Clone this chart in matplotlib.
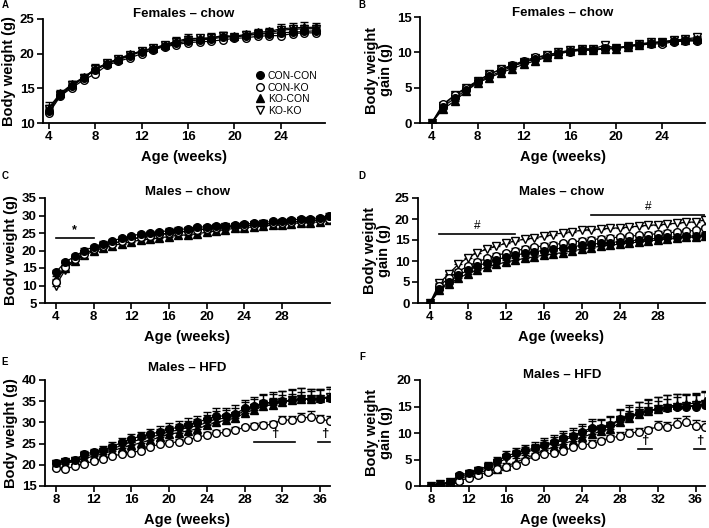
import matplotlib
matplotlib.use("Agg")
import matplotlib.pyplot as plt
import numpy as np

plt.rcParams['font.family'] = ['Liberation Sans', 'DejaVu Sans']
plt.rcParams['font.weight'] = 'bold'

groups = ["CON-CON", "CON-KO", "KO-CON", "KO-KO"]

# ---------------- Panel A: Females chow, body weight ----------------
weeks_A = list(range(4, 28))
A_concon = [11.8, 14.0, 15.3, 16.5, 17.6, 18.5, 19.1, 19.7, 20.3, 20.7, 21.1, 21.5, 21.8, 22.0, 22.1, 22.4, 22.4, 22.6, 22.8, 22.9, 23.0, 23.1, 23.2, 23.3]
A_conko = [11.4, 13.9, 15.1, 16.2, 17.1, 18.3, 18.9, 19.4, 20.0, 20.6, 21.0, 21.3, 21.6, 21.7, 21.8, 22.0, 22.2, 22.3, 22.5, 22.6, 22.6, 22.9, 23.0, 23.0]
A_kocon = [12.2, 14.3, 15.6, 16.6, 17.8, 18.6, 19.3, 19.9, 20.4, 20.8, 21.3, 21.8, 22.2, 22.2, 22.3, 22.6, 22.5, 22.8, 23.1, 23.2, 23.6, 23.7, 23.8, 23.8]
A_koko = [12.0, 14.1, 15.5, 16.5, 17.8, 18.6, 19.2, 19.8, 20.4, 20.8, 21.2, 21.7, 22.0, 22.2, 22.2, 22.6, 22.4, 22.7, 22.9, 23.0, 23.4, 23.5, 23.6, 23.6]
A_err_concon = [0.5, 0.4, 0.4, 0.4, 0.4, 0.4, 0.4, 0.4, 0.3, 0.3, 0.3, 0.4, 0.4, 0.4, 0.4, 0.4, 0.3, 0.3, 0.4, 0.4, 0.4, 0.4, 0.4, 0.4]
A_err_conko = [0.4, 0.3, 0.3, 0.3, 0.3, 0.3, 0.3, 0.3, 0.3, 0.3, 0.3, 0.3, 0.3, 0.3, 0.3, 0.3, 0.3, 0.3, 0.3, 0.3, 0.3, 0.3, 0.3, 0.3]
A_err_kocon = [0.8, 0.5, 0.5, 0.5, 0.7, 0.5, 0.4, 0.4, 0.4, 0.4, 0.4, 0.6, 0.6, 0.5, 0.7, 0.5, 0.4, 0.5, 0.4, 0.5, 0.7, 0.7, 0.7, 0.6]
A_err_koko = [0.6, 0.4, 0.5, 0.4, 0.5, 0.4, 0.4, 0.4, 0.4, 0.4, 0.4, 0.5, 0.5, 0.4, 0.5, 0.5, 0.4, 0.4, 0.4, 0.4, 0.5, 0.5, 0.6, 0.5]

# ---------------- Panel B: Females chow, weight gain ----------------
weeks_B = list(range(4, 28))
B_concon = [0.0, 2.3, 3.5, 4.7, 5.8, 6.6, 7.3, 8.0, 8.6, 9.0, 9.4, 9.8, 10.1, 10.3, 10.4, 10.6, 10.6, 10.9, 11.1, 11.3, 11.4, 11.6, 11.7, 11.7]
B_conko = [0.0, 2.7, 3.9, 4.9, 5.9, 6.9, 7.6, 8.2, 8.8, 9.3, 9.6, 9.9, 10.2, 10.4, 10.4, 10.5, 10.6, 10.8, 11.0, 11.2, 11.2, 11.5, 11.6, 11.6]
B_kocon = [0.0, 2.0, 3.1, 4.5, 5.7, 6.4, 7.1, 7.7, 8.3, 8.8, 9.3, 9.8, 10.2, 10.3, 10.3, 10.5, 10.5, 10.8, 11.1, 11.3, 11.5, 11.7, 11.8, 11.9]
B_koko = [0.0, 2.4, 4.0, 5.0, 6.0, 6.9, 7.6, 8.1, 8.6, 9.2, 9.6, 10.0, 10.3, 10.5, 10.5, 11.0, 10.6, 10.9, 11.2, 11.4, 11.5, 11.7, 11.9, 12.1]
B_err_concon = [0.0, 0.3, 0.3, 0.3, 0.3, 0.3, 0.3, 0.3, 0.3, 0.3, 0.3, 0.3, 0.3, 0.3, 0.3, 0.3, 0.3, 0.3, 0.3, 0.3, 0.3, 0.3, 0.3, 0.3]
B_err_conko = [0.0, 0.3, 0.3, 0.3, 0.3, 0.3, 0.3, 0.3, 0.3, 0.3, 0.3, 0.3, 0.3, 0.3, 0.3, 0.3, 0.3, 0.3, 0.3, 0.3, 0.3, 0.3, 0.3, 0.3]
B_err_kocon = [0.0, 0.3, 0.4, 0.4, 0.4, 0.4, 0.4, 0.4, 0.4, 0.4, 0.4, 0.4, 0.4, 0.4, 0.4, 0.4, 0.4, 0.4, 0.4, 0.4, 0.4, 0.4, 0.4, 0.4]
B_err_koko = [0.0, 0.3, 0.3, 0.3, 0.4, 0.4, 0.4, 0.4, 0.4, 0.4, 0.4, 0.4, 0.4, 0.4, 0.4, 0.4, 0.4, 0.4, 0.4, 0.4, 0.4, 0.4, 0.4, 0.5]

# ---------------- Panel C: Males chow, body weight ----------------
weeks_C = list(range(4, 34))
C_concon = [13.8, 16.7, 18.3, 20.0, 21.0, 22.0, 22.8, 23.5, 24.2, 24.7, 25.0, 25.3, 25.7, 26.0, 26.2, 26.6, 26.8, 27.0, 27.1, 27.3, 27.5, 27.8, 28.0, 28.3, 28.5, 28.7, 29.0, 29.1, 29.3, 30.0]
C_conko = [11.0, 15.3, 17.5, 19.0, 20.3, 21.3, 22.0, 22.7, 23.3, 23.8, 24.2, 24.6, 25.0, 25.3, 25.6, 26.0, 26.2, 26.5, 26.7, 26.9, 27.1, 27.3, 27.5, 27.8, 28.0, 28.2, 28.4, 28.6, 28.8, 29.0]
C_kocon = [12.0, 15.0, 17.0, 18.6, 19.8, 20.7, 21.3, 22.0, 22.5, 23.0, 23.3, 23.6, 24.0, 24.3, 24.5, 24.8, 25.2, 25.6, 26.0, 26.3, 26.5, 26.8, 27.0, 27.2, 27.4, 27.7, 27.9, 28.0, 28.2, 28.6]
C_koko = [10.0, 14.5, 17.3, 19.0, 20.2, 21.2, 21.9, 22.6, 23.2, 23.7, 24.1, 24.5, 24.9, 25.2, 25.5, 25.9, 26.1, 26.4, 26.6, 26.8, 27.0, 27.3, 27.5, 27.7, 27.9, 28.1, 28.3, 28.5, 28.7, 29.0]
C_err_concon = [0.6, 0.6, 0.6, 0.6, 0.6, 0.6, 0.6, 0.6, 0.6, 0.6, 0.6, 0.6, 0.6, 0.6, 0.6, 0.6, 0.6, 0.6, 0.6, 0.6, 0.6, 0.6, 0.6, 0.6, 0.6, 0.6, 0.6, 0.6, 0.6, 0.6]
C_err_conko = [0.6, 0.6, 0.6, 0.6, 0.6, 0.6, 0.6, 0.6, 0.6, 0.6, 0.6, 0.6, 0.6, 0.6, 0.6, 0.6, 0.6, 0.6, 0.6, 0.6, 0.6, 0.6, 0.6, 0.6, 0.6, 0.6, 0.6, 0.6, 0.6, 0.6]
C_err_kocon = [0.7, 0.7, 0.7, 0.7, 0.7, 0.7, 0.7, 0.7, 0.7, 0.7, 0.7, 0.7, 0.7, 0.7, 0.7, 0.7, 0.7, 0.7, 0.7, 0.7, 0.7, 0.7, 0.7, 0.7, 0.7, 0.7, 0.7, 0.7, 0.7, 0.7]
C_err_koko = [0.6, 0.6, 0.6, 0.6, 0.6, 0.6, 0.6, 0.6, 0.6, 0.6, 0.6, 0.6, 0.6, 0.6, 0.6, 0.6, 0.6, 0.6, 0.6, 0.6, 0.6, 0.6, 0.6, 0.6, 0.6, 0.6, 0.6, 0.6, 0.6, 0.6]

# ---------------- Panel D: Males chow, weight gain ----------------
weeks_D = list(range(4, 34))
D_concon = [0.0, 3.3, 5.0, 6.6, 7.8, 8.8, 9.6, 10.3, 10.9, 11.4, 11.8, 12.2, 12.5, 12.8, 13.1, 13.4, 13.7, 14.0, 14.2, 14.4, 14.6, 14.8, 15.0, 15.2, 15.4, 15.6, 15.8, 15.9, 16.0, 16.2]
D_conko = [0.0, 4.0, 6.0, 7.5, 8.8, 9.8, 10.6, 11.3, 11.9, 12.4, 12.9, 13.3, 13.6, 13.9, 14.2, 14.5, 14.8, 15.1, 15.3, 15.5, 15.7, 15.9, 16.1, 16.3, 16.5, 16.7, 16.9, 17.1, 17.3, 17.8]
D_kocon = [0.0, 3.0, 4.6, 5.9, 7.0, 7.8, 8.5, 9.2, 9.7, 10.2, 10.6, 11.0, 11.4, 11.7, 12.0, 12.4, 12.8, 13.2, 13.5, 13.8, 14.0, 14.3, 14.5, 14.8, 15.0, 15.2, 15.4, 15.6, 15.7, 16.0]
D_koko = [0.0, 4.7, 7.0, 9.2, 10.8, 12.0, 12.8, 13.5, 14.2, 14.8, 15.2, 15.5, 15.9, 16.3, 16.7, 17.0, 17.3, 17.5, 17.6, 17.8, 17.9, 18.1, 18.3, 18.5, 18.6, 18.8, 19.0, 19.2, 19.3, 19.8]
D_err_concon = [0.0, 0.5, 0.6, 0.6, 0.6, 0.6, 0.6, 0.6, 0.6, 0.6, 0.6, 0.6, 0.6, 0.6, 0.6, 0.6, 0.6, 0.6, 0.6, 0.6, 0.6, 0.6, 0.6, 0.6, 0.6, 0.6, 0.6, 0.6, 0.6, 0.6]
D_err_conko = [0.0, 0.5, 0.6, 0.6, 0.6, 0.6, 0.6, 0.6, 0.6, 0.6, 0.6, 0.6, 0.6, 0.6, 0.6, 0.6, 0.6, 0.6, 0.6, 0.6, 0.6, 0.6, 0.6, 0.6, 0.6, 0.6, 0.6, 0.6, 0.6, 0.6]
D_err_kocon = [0.0, 0.5, 0.6, 0.6, 0.6, 0.6, 0.6, 0.6, 0.6, 0.6, 0.6, 0.6, 0.6, 0.6, 0.6, 0.6, 0.6, 0.6, 0.6, 0.6, 0.6, 0.6, 0.6, 0.6, 0.6, 0.6, 0.6, 0.6, 0.6, 0.6]
D_err_koko = [0.0, 0.6, 0.7, 0.7, 0.7, 0.7, 0.7, 0.7, 0.7, 0.7, 0.7, 0.7, 0.7, 0.7, 0.7, 0.7, 0.7, 0.7, 0.7, 0.7, 0.7, 0.7, 0.7, 0.7, 0.7, 0.7, 0.7, 0.7, 0.7, 0.7]

# ---------------- Panel E: Males HFD, body weight ----------------
weeks_E = list(range(8, 38))
E_concon = [20.5, 20.8, 21.2, 22.5, 23.0, 23.5, 24.3, 25.3, 26.2, 26.7, 27.2, 27.8, 28.5, 28.8, 29.5, 30.0, 30.8, 31.5, 31.5, 32.0, 33.3, 33.8, 34.5, 34.8, 35.0, 35.3, 35.6, 35.5, 35.6, 35.8]
E_conko = [19.2, 19.0, 19.7, 20.3, 20.8, 21.4, 22.0, 22.6, 22.9, 23.3, 24.2, 24.9, 25.2, 25.4, 25.8, 26.5, 27.0, 27.4, 27.7, 28.2, 28.8, 29.2, 29.3, 29.6, 30.6, 30.5, 31.0, 31.3, 30.7, 30.4]
E_kocon = [20.0, 20.3, 20.8, 21.5, 22.0, 22.6, 23.3, 24.0, 24.6, 25.2, 25.8, 26.5, 27.2, 27.6, 28.0, 28.5, 29.3, 30.0, 30.5, 31.0, 32.2, 33.0, 33.8, 34.2, 34.8, 35.2, 35.5, 35.6, 35.8, 36.0]
E_koko = [20.3, 20.6, 21.0, 22.0, 22.5, 23.0, 23.8, 24.6, 25.4, 26.0, 26.5, 27.1, 27.8, 28.2, 28.8, 29.2, 30.0, 30.8, 31.0, 31.5, 32.8, 33.4, 34.2, 34.5, 34.9, 35.2, 35.5, 35.5, 35.6, 35.9]
E_err_concon = [0.6, 0.6, 0.7, 0.8, 0.8, 0.9, 1.0, 1.0, 1.1, 1.1, 1.2, 1.3, 1.4, 1.5, 1.5, 1.6, 1.7, 1.8, 1.9, 2.0, 2.1, 2.2, 2.3, 2.3, 2.4, 2.5, 2.6, 2.3, 2.3, 2.5]
E_err_conko = [0.5, 0.5, 0.5, 0.6, 0.6, 0.6, 0.6, 0.6, 0.6, 0.6, 0.6, 0.6, 0.6, 0.6, 0.6, 0.7, 0.7, 0.7, 0.7, 0.7, 0.7, 0.7, 0.8, 0.8, 1.0, 1.0, 1.2, 1.3, 1.1, 1.2]
E_err_kocon = [0.6, 0.6, 0.6, 0.7, 0.7, 0.7, 0.8, 0.8, 0.8, 0.9, 0.9, 1.0, 1.0, 1.0, 1.1, 1.1, 1.2, 1.2, 1.3, 1.3, 1.4, 1.4, 1.5, 1.5, 1.6, 1.6, 1.7, 1.7, 1.8, 1.8]
E_err_koko = [0.6, 0.6, 0.7, 0.8, 0.8, 0.9, 1.0, 1.0, 1.1, 1.1, 1.2, 1.3, 1.4, 1.5, 1.5, 1.6, 1.7, 1.8, 1.9, 2.0, 2.1, 2.2, 2.3, 2.3, 2.4, 2.5, 2.6, 2.3, 2.3, 2.5]

# ---------------- Panel F: Males HFD, weight gain ----------------
weeks_F = list(range(8, 38))
F_concon = [0.0, 0.3, 0.8, 2.0, 2.5, 3.0, 3.8, 4.7, 5.7, 6.2, 6.7, 7.2, 7.8, 8.3, 9.0, 9.5, 10.2, 11.0, 11.0, 11.5, 12.7, 13.2, 13.8, 14.2, 14.5, 14.8, 15.0, 15.0, 15.0, 15.3]
F_conko = [0.0, 0.2, 0.5, 1.0, 1.5, 2.0, 2.7, 3.2, 3.5, 4.0, 4.8, 5.7, 6.0, 6.2, 6.6, 7.3, 7.7, 8.0, 8.5, 9.0, 9.5, 10.0, 10.2, 10.5, 11.3, 11.2, 11.7, 12.0, 11.3, 11.2]
F_kocon = [0.0, 0.3, 0.7, 1.3, 2.0, 2.5, 3.0, 3.3, 3.7, 4.5, 5.2, 6.0, 6.8, 7.3, 8.0, 8.5, 9.2, 9.8, 10.3, 10.8, 12.0, 12.8, 13.6, 14.2, 14.6, 15.0, 15.3, 15.5, 15.6, 16.0]
F_koko = [0.0, 0.3, 0.8, 1.7, 2.3, 2.8, 3.5, 4.3, 5.2, 5.8, 6.3, 6.9, 7.5, 8.0, 8.7, 9.2, 9.9, 10.6, 10.8, 11.3, 12.5, 13.0, 13.7, 14.1, 14.5, 14.8, 15.0, 15.1, 15.2, 15.5]
F_err_concon = [0.2, 0.3, 0.4, 0.5, 0.5, 0.6, 0.7, 0.8, 0.9, 0.9, 1.0, 1.1, 1.2, 1.3, 1.3, 1.4, 1.5, 1.6, 1.7, 1.8, 1.9, 2.0, 2.1, 2.2, 2.3, 2.3, 2.4, 2.3, 2.3, 2.4]
F_err_conko = [0.1, 0.2, 0.3, 0.4, 0.4, 0.5, 0.5, 0.5, 0.5, 0.5, 0.5, 0.5, 0.5, 0.5, 0.5, 0.6, 0.6, 0.6, 0.6, 0.6, 0.6, 0.7, 0.7, 0.7, 0.9, 0.9, 1.1, 1.3, 1.1, 1.1]
F_err_kocon = [0.2, 0.3, 0.3, 0.4, 0.4, 0.5, 0.5, 0.6, 0.6, 0.7, 0.7, 0.8, 0.8, 0.9, 0.9, 1.0, 1.0, 1.1, 1.1, 1.2, 1.2, 1.3, 1.3, 1.4, 1.4, 1.5, 1.5, 1.6, 1.6, 1.7]
F_err_koko = [0.2, 0.3, 0.4, 0.5, 0.5, 0.6, 0.7, 0.8, 0.9, 0.9, 1.0, 1.1, 1.2, 1.3, 1.3, 1.4, 1.5, 1.6, 1.7, 1.8, 1.9, 2.0, 2.1, 2.2, 2.3, 2.3, 2.4, 2.3, 2.3, 2.4]

styles = {
    "CON-CON": dict(marker='o', mfc='black', mec='black'),
    "CON-KO": dict(marker='o', mfc='white', mec='black'),
    "KO-CON": dict(marker='^', mfc='black', mec='black'),
    "KO-KO": dict(marker='v', mfc='white', mec='black'),
}

W, H = 709, 528
fig = plt.figure(figsize=(W / 100, H / 100), dpi=100)


def make_ax(l, r, t, b):
    return fig.add_axes([l / W, 1 - b / H, (r - l) / W, (b - t) / H])


def panel(ax, x, series, errs, xlim, ylim, yticks, xticks, ylabel, title, title_y):
    order = ["KO-KO", "KO-CON", "CON-KO", "CON-CON"]
    for g in order:
        y = np.array(series[g])
        e = np.array(errs[g])
        st = styles[g]
        ax.errorbar(x, y, yerr=[np.zeros_like(e), e], color='black', lw=0.9,
                    marker=st['marker'], mfc=st['mfc'], mec=st['mec'], mew=1.0,
                    ms=5.5, capsize=2.8, elinewidth=0.9, capthick=1.0, zorder=3)
    ax.set_xlim(*xlim)
    ax.set_ylim(*ylim)
    ax.set_yticks(yticks)
    ax.set_xticks(xticks)
    for s in ['top', 'right']:
        ax.spines[s].set_visible(False)
    for s in ['left', 'bottom']:
        ax.spines[s].set_linewidth(1.3)
    ax.tick_params(direction='out', length=4, width=1.2, labelsize=9.5, pad=2)
    for lab in ax.get_xticklabels() + ax.get_yticklabels():
        lab.set_fontweight('bold')
    ax.set_xlabel("Age (weeks)", fontsize=10.5, fontweight='bold', labelpad=5)
    ax.set_ylabel(ylabel, fontsize=10.5, fontweight='bold', labelpad=3, linespacing=0.95)
    ax.text(0.5, title_y, title, transform=ax.transAxes, ha='center', va='center',
            fontsize=9.5, fontweight='bold')


# Panel positions in pixels (left, right, top, bottom)
axA = make_ax(43, 325, 19, 123)
axB = make_ax(420, 705, 17, 123)
axC = make_ax(45, 330, 198, 303)
axD = make_ax(418, 705, 198, 303)
axE = make_ax(45, 330, 380, 486)
axF = make_ax(420, 705, 380, 486)

panel(axA, weeks_A,
      {"CON-CON": A_concon, "CON-KO": A_conko, "KO-CON": A_kocon, "KO-KO": A_koko},
      {"CON-CON": A_err_concon, "CON-KO": A_err_conko, "KO-CON": A_err_kocon, "KO-KO": A_err_koko},
      (3.5, 27.8), (10, 25), [10, 15, 20, 25], [4, 8, 12, 16, 20, 24],
      "Body weight (g)", "Females – chow", 1.05)
panel(axB, weeks_B,
      {"CON-CON": B_concon, "CON-KO": B_conko, "KO-CON": B_kocon, "KO-KO": B_koko},
      {"CON-CON": B_err_concon, "CON-KO": B_err_conko, "KO-CON": B_err_kocon, "KO-KO": B_err_koko},
      (3.0, 27.7), (0, 15), [0, 5, 10, 15], [4, 8, 12, 16, 20, 24],
      "Body weight\ngain (g)", "Females – chow", 1.04)
panel(axC, weeks_C,
      {"CON-CON": C_concon, "CON-KO": C_conko, "KO-CON": C_kocon, "KO-KO": C_koko},
      {"CON-CON": C_err_concon, "CON-KO": C_err_conko, "KO-CON": C_err_kocon, "KO-KO": C_err_koko},
      (2.85, 33.1), (5, 35), [5, 10, 15, 20, 25, 30, 35], [4, 8, 12, 16, 20, 24, 28],
      "Body weight (g)", "Males – chow", 1.06)
panel(axD, weeks_D,
      {"CON-CON": D_concon, "CON-KO": D_conko, "KO-CON": D_kocon, "KO-KO": D_koko},
      {"CON-CON": D_err_concon, "CON-KO": D_err_conko, "KO-CON": D_err_kocon, "KO-KO": D_err_koko},
      (2.75, 33.0), (0, 25), [0, 5, 10, 15, 20, 25], [4, 8, 12, 16, 20, 24, 28],
      "Body weight\ngain (g)", "Males – chow", 1.06)
panel(axE, weeks_E,
      {"CON-CON": E_concon, "CON-KO": E_conko, "KO-CON": E_kocon, "KO-KO": E_koko},
      {"CON-CON": E_err_concon, "CON-KO": E_err_conko, "KO-CON": E_err_kocon, "KO-KO": E_err_koko},
      (6.85, 37.05), (15, 40), [15, 20, 25, 30, 35, 40], [8, 12, 16, 20, 24, 28, 32, 36],
      "Body weight (g)", "Males – HFD", 1.11)
panel(axF, weeks_F,
      {"CON-CON": F_concon, "CON-KO": F_conko, "KO-CON": F_kocon, "KO-KO": F_koko},
      {"CON-CON": F_err_concon, "CON-KO": F_err_conko, "KO-CON": F_err_kocon, "KO-KO": F_err_koko},
      (6.85, 37.0), (0, 20), [0, 5, 10, 15, 20], [8, 12, 16, 20, 24, 28, 32, 36],
      "Body weight\ngain (g)", "Males – HFD", 1.05)

# Legend in panel A
from matplotlib.lines import Line2D
handles = [Line2D([], [], ls='none', color='black', marker=styles[g]['marker'],
                  mfc=styles[g]['mfc'], mec='black', ms=5.5, mew=1.0) for g in groups]
leg = axA.legend(handles, groups, loc='lower right', bbox_to_anchor=(1.0, 0.0),
                 frameon=False, fontsize=7.5, handlelength=0.8, handletextpad=0.4,
                 labelspacing=0.15, borderaxespad=0.3)
for t in leg.get_texts():
    t.set_fontweight('normal')

# Significance annotations
axC.plot([4, 8], [23.5, 23.5], color='black', lw=1.2)
axC.text(6, 24.0, "*", ha='center', va='bottom', fontsize=9, fontweight='bold')

axD.plot([5, 13], [16.5, 16.5], color='black', lw=1.2)
axD.text(9, 17.0, "#", ha='center', va='bottom', fontsize=8.5, fontweight='normal')
axD.plot([21, 33], [21.0, 21.0], color='black', lw=1.2)
axD.text(27, 21.5, "#", ha='center', va='bottom', fontsize=8.5, fontweight='normal')

axE.plot([29, 33.3], [25.4, 25.4], color='black', lw=1.2)
axE.text(31.2, 25.9, "†", ha='center', va='bottom', fontsize=9.5, fontweight='bold')
axE.plot([35.8, 37.05], [25.4, 25.4], color='black', lw=1.2, clip_on=False)
axE.text(36.5, 25.9, "†", ha='center', va='bottom', fontsize=9.5, fontweight='bold')

axF.plot([29.9, 31.4], [7.0, 7.0], color='black', lw=1.2)
axF.text(30.65, 7.4, "†", ha='center', va='bottom', fontsize=9.5, fontweight='bold')
axF.plot([35.8, 37.0], [7.0, 7.0], color='black', lw=1.2, clip_on=False)
axF.text(36.4, 7.4, "†", ha='center', va='bottom', fontsize=9.5, fontweight='bold')

# Panel letters
for letter, (px, py) in zip("ABCDEF", [(5, 5), (362, 5), (5, 176), (362, 176), (5, 362), (362, 357)]):
    fig.text(px / W, 1 - py / H, letter, ha='center', va='center', fontsize=7, fontweight='bold')

fig.savefig("out.png", dpi=100)
